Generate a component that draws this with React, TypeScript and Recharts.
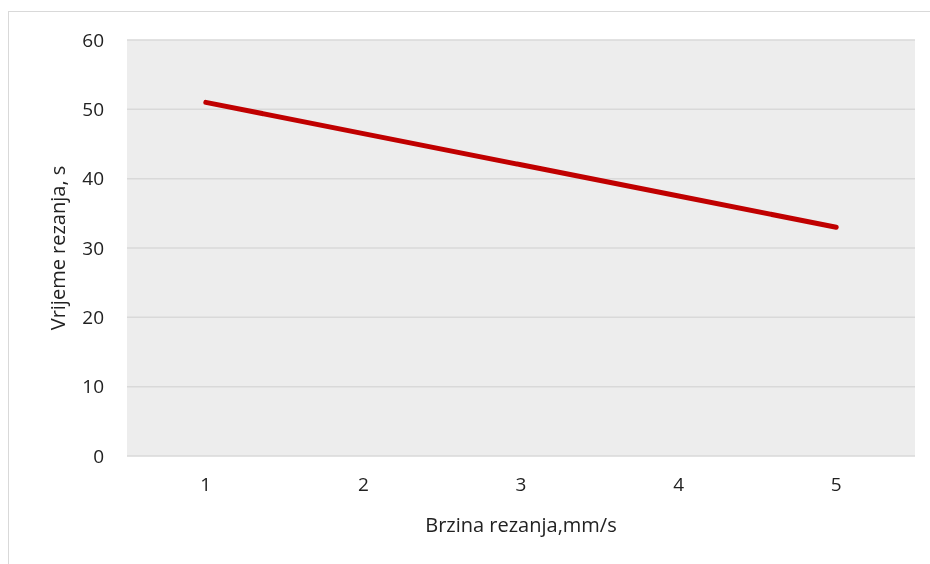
import { CartesianGrid, ComposedChart, Line, XAxis, YAxis } from "recharts";

const speeds = ["1", "2", "3", "4", "5"];
const cutTimes = [51, 46.5, 42, 37.5, 33];
const yTicks = [0, 10, 20, 30, 40, 50, 60];

const chartData = speeds.map((s, i) => ({ speed: s, time: cutTimes[i] }));

const FONT = "'Open Sans', sans-serif";
const TEXT = "#222";

// eslint-disable-next-line @typescript-eslint/no-explicit-any
function YTitle({ viewBox }: any) {
  const cx = viewBox.x + 49;
  const cy = viewBox.y + viewBox.height / 2;
  return (
    <text
      x={cx}
      y={cy}
      transform={`rotate(-90, ${cx}, ${cy})`}
      textAnchor="middle"
      dominantBaseline="central"
      fill={TEXT}
      fontSize={20}
      fontFamily={FONT}
    >
      Vrijeme rezanja, s
    </text>
  );
}

// eslint-disable-next-line @typescript-eslint/no-explicit-any
function XTitle({ viewBox }: any) {
  return (
    <text
      x={viewBox.x + viewBox.width / 2}
      y={viewBox.y + 76}
      textAnchor="middle"
      fill={TEXT}
      fontSize={20}
      fontFamily={FONT}
    >
      Brzina rezanja,mm/s
    </text>
  );
}

export default function App() {
  return (
    <div style={{ position: "relative", width: 914, height: 548 }}>
      {/* outer frame, only its top and left edges fall inside the picture */}
      <div
        style={{
          position: "fixed",
          left: 8,
          top: 11,
          right: 0,
          bottom: 0,
          borderTop: "1px solid #d9d9d9",
          borderLeft: "1px solid #d9d9d9",
        }}
      />
      <ComposedChart
        width={914}
        height={548}
        data={chartData}
        margin={{ top: 32, right: 7, left: 0, bottom: 10 }}
        style={{ position: "absolute", left: 0, top: 0 }}
      >
        <CartesianGrid
          vertical={false}
          fill="#ededed"
          stroke="#d9d9d9"
          strokeWidth={1.5}
        />
        <XAxis
          dataKey="speed"
          scale="band"
          height={90}
          axisLine={false}
          tickLine={false}
          tickSize={0}
          tickMargin={22}
          tick={{ fill: TEXT, fontSize: 19, fontFamily: FONT }}
          label={<XTitle />}
        />
        <YAxis
          width={119}
          domain={[0, 60]}
          ticks={yTicks}
          axisLine={false}
          tickLine={false}
          tickSize={0}
          tickMargin={23}
          tick={{ fill: TEXT, fontSize: 19, fontFamily: FONT }}
          label={<YTitle />}
        />
        <Line
          dataKey="time"
          stroke="#c00000"
          strokeWidth={5}
          strokeLinecap="round"
          dot={false}
          activeDot={false}
          isAnimationActive={false}
        />
      </ComposedChart>
    </div>
  );
}
